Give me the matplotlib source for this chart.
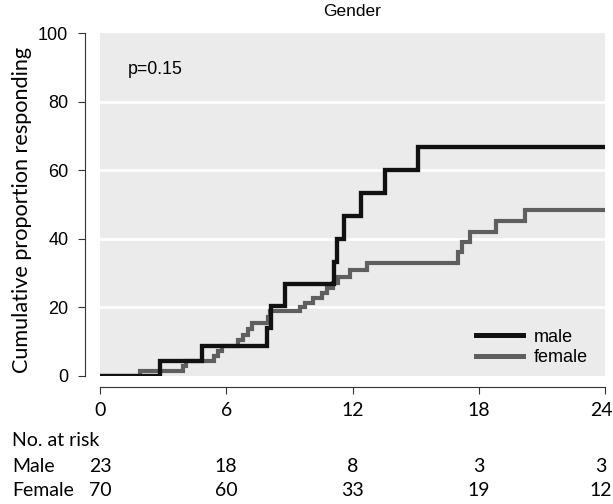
import matplotlib
matplotlib.use('Agg')
import matplotlib.pyplot as plt
from matplotlib.transforms import blended_transform_factory, ScaledTranslation

# ---- data ----
male_t = [0, 2.85, 4.85, 7.92, 8.15, 8.8, 11.1, 11.25, 11.6, 12.4, 13.55, 15.1, 24]
male_y = [0, 4.35, 8.7, 14.0, 20.3, 26.7, 33.3, 40.0, 46.7, 53.3, 60.0, 66.7, 66.7]
female_t = [0, 1.9, 3.95, 4.1, 5.4, 5.6, 5.8, 6.57, 6.8, 7.05, 7.2, 8.0, 8.1, 9.5, 9.75,
            10.1, 10.55, 10.8, 11.05, 11.3, 11.9, 12.7, 17.0, 17.2, 17.6, 18.8, 20.2, 24]
female_y = [0, 1.4, 2.9, 4.3, 5.8, 7.3, 8.8, 10.5, 12.0, 13.8, 15.5, 17.2, 18.9, 20.0, 21.3,
            22.8, 24.3, 25.7, 27.2, 28.9, 30.8, 32.9, 36.2, 39.0, 42.0, 45.2, 48.4, 48.4]
x_ticks = [0, 6, 12, 18, 24]
y_ticks = [0, 20, 40, 60, 80, 100]
risk_times = [0, 6, 12, 18, 24]
risk_male = [23, 18, 8, 3, 3]
risk_female = [70, 60, 33, 19, 12]
series_labels = ['male', 'female']
row_labels = ['Male', 'Female']

W, H = 613, 504
ARIAL = 'Liberation Sans'
CAL = 'Lato'

fig = plt.figure(figsize=(W / 100, H / 100), dpi=100)
ax = fig.add_axes([100 / W, 1 - 376 / H, 505 / W, 343 / H])
ax.set_facecolor('#ebebeb')
ax.set_xlim(0, 24)
ax.set_ylim(0, 100)

for g in y_ticks[1:-1]:
    ax.axhline(g, color='white', lw=1.9, zorder=1)

ax.step(male_t, male_y, where='post', color='#111111', lw=3.1, zorder=3,
        label=series_labels[0], solid_joinstyle='miter')
ax.step(female_t, female_y, where='post', color='#5f5f5f', lw=3.0, zorder=2,
        label=series_labels[1], solid_joinstyle='miter')

for s in ['top', 'right']:
    ax.spines[s].set_visible(False)
ax.spines['left'].set_position(('outward', 10.8))
ax.spines['bottom'].set_position(('outward', 7.9))
for s in ['left', 'bottom']:
    ax.spines[s].set_color('#333333')
    ax.spines[s].set_linewidth(0.8)

ax.set_xticks(x_ticks)
ax.set_yticks(y_ticks)
ax.tick_params(axis='y', length=5, width=0.8, color='#333333', pad=7)
ax.tick_params(axis='x', length=5, width=0.8, color='#333333', pad=6)
for lab in ax.get_yticklabels():
    lab.set_fontfamily(ARIAL)
    lab.set_fontsize(13)
xl = ax.get_xticklabels()
for lab in xl:
    lab.set_fontfamily(CAL)
    lab.set_fontsize(14)
shift_last = ScaledTranslation(-4 / 100, 0, fig.dpi_scale_trans)
xl[-1].set_transform(xl[-1].get_transform() + shift_last)

fig.text(352 / W, 1 - 12 / H, 'Gender', ha='center', va='center', fontsize=12.5, family=ARIAL)
fig.text(128 / W, 1 - 70 / H, 'p=0.15', ha='left', va='center', fontsize=12.8, family=ARIAL)
fig.text(22 / W, 1 - 210 / H, 'Cumulative proportion responding', rotation=90,
         ha='center', va='center', fontsize=15.6, family=CAL)

leg = ax.legend(loc='center left', bbox_to_anchor=(476 / W, 1 - 347.5 / H),
                bbox_transform=fig.transFigure, frameon=False,
                prop={'family': ARIAL, 'size': 13}, borderpad=0, borderaxespad=0,
                handlelength=2.6, handletextpad=0.6, labelspacing=0.2)
for line in leg.get_lines():
    line.set_linewidth(3.6)

tr = blended_transform_factory(ax.transData, fig.transFigure)
fig.text(12 / W, 1 - 440 / H, 'No. at risk', ha='left', va='center', fontsize=14, family=CAL)
for row_y, lab, vals in [(467, row_labels[0], risk_male), (491, row_labels[1], risk_female)]:
    fig.text(12 / W, 1 - row_y / H, lab, ha='left', va='center', fontsize=14, family=CAL)
    for t, v in zip(risk_times, vals):
        trans = tr + shift_last if t == risk_times[-1] else tr
        ax.text(t, 1 - row_y / H, str(v), transform=trans, ha='center', va='center',
                fontsize=14, family=CAL, clip_on=False)

fig.savefig('out.png', dpi=100)
